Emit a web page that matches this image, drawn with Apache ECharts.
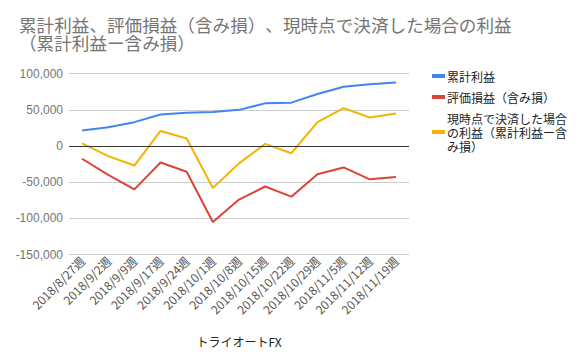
<!DOCTYPE html>
<html><head><meta charset="utf-8">
<script src="https://cdn.jsdelivr.net/npm/echarts@6/dist/echarts.min.js"></script>
<style>html,body{margin:0;padding:0;background:#fff}#c{width:586px;height:360px}
#c text{text-spacing-trim:space-all;font-feature-settings:"chws" 0,"halt" 0,"palt" 0;}</style>
</head><body><div id="c"></div>
<script>
const categories = ["2018/8/27週","2018/9/2週","2018/9/9週","2018/9/17週","2018/9/24週","2018/10/1週","2018/10/8週","2018/10/15週","2018/10/22週","2018/10/29週","2018/11/5週","2018/11/12週","2018/11/19週"];
const cumulative = [21300, 26000, 33000, 43500, 46000, 47000, 50000, 59000, 60000, 72000, 82000, 85500, 88000];
const unrealized = [-17600, -40000, -60000, -22700, -35600, -105000, -74000, -56000, -70000, -39000, -29600, -46000, -43000];
const realizedNow = [3700, -14000, -27000, 20800, 10400, -58000, -24000, 3000, -10000, 33000, 52400, 39500, 45000];
const seriesNames = ["累計利益", "評価損益（含み損）", "現時点で決済した場合の利益（累計利益ー含み損）"];
const legendLabels = {
  "累計利益": "累計利益",
  "評価損益（含み損）": "評価損益（含み損）",
  "現時点で決済した場合の利益（累計利益ー含み損）": "現時点で決済した場合\nの利益（累計利益ー含\nみ損）"
};
const colors = ["#4285F4", "#DB4437", "#F4B400"];
const font = "Arial, 'Liberation Sans', 'Noto Sans CJK JP', sans-serif";
const cjk = "'Noto Sans CJK JP', sans-serif";
const chart = echarts.init(document.getElementById('c'), null, { renderer: 'svg' });
const mk = (name, data, color) => ({
  name, type: 'line', data, showSymbol: false, symbol: 'none',
  lineStyle: { width: 2, color }, itemStyle: { color }
});
chart.setOption({
  animation: false,
  textStyle: { fontFamily: font },
  title: {
    text: "累計利益、評価損益（含み損）、現時点で決済した場合の利益\n（累計利益ー含み損）",
    left: 14, top: 10,
    textStyle: { fontSize: 17.6, fontWeight: 'normal', color: '#757575', lineHeight: 18, fontFamily: cjk }
  },
  legend: {
    orient: 'vertical', left: 427, top: 64, itemGap: 7,
    itemWidth: 13, itemHeight: 4, icon: 'rect',
    data: seriesNames,
    formatter: n => legendLabels[n],
    textStyle: { fontSize: 12, color: '#222', lineHeight: 14, padding: [0,0,0,-3], fontFamily: cjk }
  },
  grid: { left: 69, top: 73.7, width: 340, height: 180.8, containLabel: false },
  xAxis: {
    type: 'category', data: categories, boundaryGap: true,
    name: 'トライオートFX', nameLocation: 'middle', nameGap: 81,
    nameTextStyle: { fontSize: 12, color: '#222', fontFamily: cjk },
    axisLine: { show: false }, axisTick: { show: false },
    axisLabel: { rotate: 45, fontSize: 12, color: '#555', margin: 4, interval: 0, fontFamily: cjk }
  },
  yAxis: {
    type: 'value', min: -150000, max: 100000, interval: 50000,
    axisLine: { show: false }, axisTick: { show: false },
    splitLine: { lineStyle: { color: '#cccccc', width: 1 } },
    axisLabel: { fontSize: 12, color: '#757575', margin: 6,
      formatter: v => v.toLocaleString('en-US') }
  },
  series: [
    mk(seriesNames[0], cumulative, colors[0]),
    Object.assign(mk(seriesNames[1], unrealized, colors[1]), {
      markLine: { silent: true, symbol: 'none', label: { show: false },
        lineStyle: { color: '#333', width: 1, type: 'solid' }, data: [{ yAxis: 0 }] }
    }),
    mk(seriesNames[2], realizedNow, colors[2])
  ]
});
</script></body></html>
